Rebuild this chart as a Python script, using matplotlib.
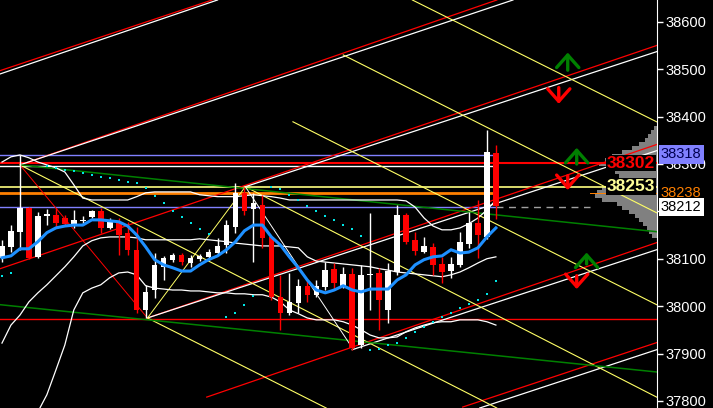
import numpy as np
import matplotlib
matplotlib.use('Agg')
import matplotlib.pyplot as plt
from matplotlib.transforms import blended_transform_factory

plt.rcParams['font.family'] = ['Liberation Sans', 'DejaVu Sans']

# ---- candles (oldest first) ----
opens = [38102, 38125, 38157, 38207, 38104, 38190, 38193, 38186, 38171, 38180,
         38188, 38201, 38165, 38176, 38155, 38119, 37992, 38034, 38083, 38098,
         38108, 38091, 38100, 38104, 38112, 38129, 38167, 38239, 38205, 38214,
         38146, 38020, 37986, 38007, 38043, 38024, 38041, 38079, 38043, 38068,
         37918, 38066, 38070, 37992, 38072, 38193, 38140, 38114, 38125, 38089,
         38074, 38087, 38131, 38176, 38146, 38323]
highs = [38140, 38171, 38319, 38209, 38199, 38205, 38207, 38193, 38203, 38190,
         38203, 38207, 38186, 38186, 38178, 38167, 38045, 38112, 38106, 38112,
         38112, 38108, 38110, 38121, 38144, 38182, 38260, 38252, 38239, 38235,
         38146, 38066, 38070, 38057, 38055, 38055, 38093, 38091, 38083, 38081,
         38087, 38197, 38081, 38091, 38214, 38197, 38157, 38146, 38133, 38104,
         38104, 38157, 38199, 38224, 38372, 38340]
lows = [38093, 38114, 38119, 38100, 38102, 38171, 38167, 38169, 38165, 38174,
        38186, 38155, 38163, 38108, 38108, 37986, 37975, 38017, 38055, 38093,
        38087, 38083, 38095, 38098, 38110, 38112, 38155, 38193, 38093, 38123,
        38013, 37950, 37981, 37986, 38009, 38020, 38034, 38034, 38038, 37908,
        37912, 37992, 37950, 37965, 38066, 38131, 38108, 38112, 38066, 38049,
        38060, 38083, 38123, 38102, 38142, 38184]
closes = [38127, 38159, 38207, 38102, 38190, 38195, 38176, 38174, 38182, 38182,
          38201, 38165, 38182, 38150, 38119, 37992, 38030, 38087, 38102, 38108,
          38093, 38102, 38106, 38114, 38127, 38171, 38239, 38201, 38218, 38144,
          38020, 37986, 38009, 38043, 38024, 38043, 38077, 38049, 38068, 37912,
          38066, 38068, 38013, 38074, 38193, 38136, 38117, 38127, 38087, 38072,
          38089, 38136, 38176, 38150, 38325, 38212]

# ---- indicators ----
ma_blue = [38102, 38106, 38121, 38121, 38136, 38155, 38165, 38169, 38171, 38171,
           38182, 38182, 38180, 38178, 38169, 38150, 38125, 38098, 38087, 38081,
           38074, 38074, 38087, 38098, 38106, 38119, 38136, 38159, 38171, 38171,
           38146, 38129, 38104, 38081, 38055, 38034, 38028, 38034, 38043, 38034,
           38030, 38036, 38036, 38036, 38055, 38066, 38087, 38098, 38104, 38106,
           38119, 38112, 38114, 38123, 38146, 38165]
bb_upper = [38304, 38315, 38319, 38313, 38304, 38298, 38292, 38283, 38256, 38228,
            38224, 38224, 38224, 38224, 38224, 38231, 38239, 38241, 38241, 38241,
            38241, 38241, 38235, 38233, 38231, 38231, 38231, 38233, 38235, 38233,
            38231, 38228, 38224, 38224, 38224, 38224, 38224, 38224, 38224, 38224,
            38224, 38224, 38224, 38224, 38224, 38222, 38209, 38186, 38169, 38161,
            38161, 38165, 38174, 38186, 38203, 38224]
bb_mid = [37922, 37960, 37981, 38009, 38028, 38045, 38064, 38083, 38104, 38127,
          38138, 38144, 38146, 38146, 38146, 38144, 38140, 38140, 38140, 38140,
          38140, 38140, 38142, 38140, 38138, 38136, 38133, 38131, 38129, 38127,
          38127, 38127, 38125, 38123, 38104, 38095, 38093, 38091, 38089, 38087,
          38085, 38083, 38079, 38076, 38072, 38070, 38068, 38066, 38064, 38062,
          38066, 38072, 38081, 38091, 38100, 38104]
bb_lower = [37654, 37686, 37718, 37749, 37777, 37813, 37865, 37918, 37992, 38028,
            38038, 38045, 38060, 38070, 38072, 38066, 38043, 38038, 38036, 38034,
            38034, 38032, 38032, 38030, 38028, 38028, 38026, 38026, 38024, 38024,
            38019, 38009, 37992, 37984, 37975, 37971, 37971, 37971, 37967, 37960,
            37950, 37939, 37933, 37933, 37935, 37946, 37954, 37960, 37965, 37967,
            37967, 37971, 37971, 37971, 37967, 37960]

sar_idx = [0, 1, 5, 6, 7, 8, 9, 10, 11, 12, 13, 14, 15, 16, 17, 18, 19, 20, 21, 22, 23,
           25, 26, 27, 28, 30, 31, 32, 33, 34, 35, 36, 37, 38, 39, 40,
           41, 42, 43, 44, 45, 46, 47, 48, 49, 50, 51, 52, 53, 54, 55]
sar_val = [38064, 38070, 38296, 38292, 38288, 38285, 38281, 38277, 38273, 38271,
           38266, 38262, 38260, 38249, 38233, 38218, 38201, 38188, 38176, 38163, 38152,
           37977, 37986, 38003, 38022, 38252, 38247, 38235, 38224, 38212, 38201,
           38190, 38182, 38171, 38163, 38148,
           37908, 37910, 37918, 37922, 37933, 37946, 37956, 37967, 37977, 37986,
           37996, 38005, 38013, 38026, 38053]

# ---- horizontal levels: price, end index (None = full width), colour, width ----
levels = [
    (38318, 55, '#8080ff', 1.0),
    (38302, None, '#ff0000', 1.5),
    (38295, 55, '#ffffff', 1.0),
    (38252, None, '#ffff80', 1.2),
    (38238, 55, '#ff8000', 2.0),
    (38209, 55, '#8080ff', 1.0),
    (37973, None, '#ff0000', 1.0),
]

# ---- trend / pitchfork lines: x0, p0, x1, p1, colour, width ----
trend_lines = [
    (-0.2, 38497, 23.4, 38646, '#ff0000', 0.9),
    (-0.2, 38490, 24.0, 38646, '#ffffff', 0.9),
    (2.0, 38298, 55.1, 38646, '#ff0000', 0.9),
    (2.0, 38298, 56.9, 38646, '#ffffff', 0.9),
    (-0.2, 38079, 72.9, 38550, '#ff0000', 0.9),
    (27.1, 38252, 72.9, 38537, '#ffffff', 0.9),
    (16.2, 37975, 72.9, 38341, '#ff0000', 0.9),
    (16.2, 37975, 72.9, 38328, '#ffffff', 0.9),
    (22.8, 37808, 72.9, 38134, '#ff0000', 0.9),
    (39.0, 37908, 72.9, 38119, '#ffffff', 0.9),
    (51.3, 37787, 72.9, 37923, '#ff0000', 0.9),
    (53.2, 37785, 72.9, 37908, '#ffffff', 0.9),
    (2.0, 38298, 55.1, 37785, '#ffff66', 0.8),
    (27.1, 38252, 72.9, 37808, '#ffff66', 0.8),
    (32.4, 38389, 72.9, 38003, '#ffff66', 0.8),
    (38.0, 38530, 72.9, 38197, '#ffff66', 0.8),
    (45.7, 38646, 72.9, 38389, '#ffff66', 0.8),
    (16.2, 37975, 36.1, 37785, '#ffff66', 0.8),
    (2.0, 38298, 72.9, 38157, '#008000', 1.1),
    (-0.2, 38003, 72.9, 37861, '#008000', 1.1),
    (2.0, 38298, 16.2, 37975, '#ff0000', 0.7),
    (16.2, 37975, 27.1, 38252, '#ffff66', 0.7),
    (27.1, 38252, 39.0, 37912, '#ffffff', 0.7),
]

# ---- volume profile (price level, volume) ----
vp_price = [38376, 38368, 38359, 38351, 38342, 38334, 38325, 38317, 38309, 38300,
            38292, 38283, 38275, 38266, 38258, 38250, 38241, 38233, 38224, 38216,
            38207, 38199, 38190, 38182, 38174, 38165, 38157, 38148]
vp_vol = [3, 6, 9, 12, 18, 25, 35, 45, 52, 58, 50, 42, 38, 45, 50, 55, 60, 62, 55, 40,
          35, 28, 22, 18, 14, 10, 8, 5]
poc_price = 38238
poc_vol = 67

# ---- signal arrows: x index, base, tip, colour ----
arrows = [
    (63.0, 38492, 38541, '#008000'),
    (62.0, 38467, 38421, '#ff0000'),
    (64.0, 38294, 38340, '#008000'),
    (63.0, 38281, 38239, '#ff0000'),
    (65.1, 38083, 38119, '#008000'),
    (64.0, 38070, 38030, '#ff0000'),
]

# axis tick labels (38200 sits hidden under the current-price box)
tick_vals = list(range(37800, 38700, 100))
tick_text = ['' if v == 38200 else str(v) for v in tick_vals]

fig = plt.figure(figsize=(7.13, 4.08), dpi=100, facecolor='black')
ax = fig.add_axes([0, 0, 657 / 713, 1])
ax2 = ax.twiny()
ax.set_zorder(2)
ax2.set_zorder(1)
ax.patch.set_visible(False)
ax2.set_facecolor('black')

xmin, xmax = -0.22, 72.94
ax.set_xlim(xmin, xmax)
ax.set_ylim(37785, 38646)

# volume profile behind everything
ax2.set_xlim(657, 0)
ax2.barh(vp_price, vp_vol, height=8.4, color='#808080', align='center')
ax2.barh([poc_price], [poc_vol], height=3.5, color='#ff8000')
ax2.xaxis.set_visible(False)
for s in ax2.spines.values():
    s.set_visible(False)

for p, end, c, w in levels:
    ax.plot([xmin, end if end is not None else xmax], [p, p], color=c, lw=w, zorder=2)
ax.plot([55, 65.5], [38209, 38209], color='#a0a0a0', lw=1, ls=(0, (5, 4)), zorder=2)

for x0, p0, x1, p1, c, w in trend_lines:
    ax.plot([x0, x1], [p0, p1], color=c, lw=w, zorder=2)

idx = np.arange(len(opens))
ax.plot(idx, bb_upper, color='white', lw=0.9, zorder=3)
ax.plot(idx, bb_mid, color='white', lw=0.9, zorder=3)
ax.plot(idx, bb_lower, color='white', lw=0.9, zorder=3)

for i in idx:
    up = closes[i] >= opens[i]
    c = 'white' if up else '#ff0000'
    ax.vlines(i, lows[i], highs[i], color=c, lw=1.0, zorder=4)
    body = max(abs(closes[i] - opens[i]), 1.5)
    ax.bar(i, body, bottom=min(opens[i], closes[i]), width=0.62, color=c,
           linewidth=0, zorder=5)

ax.plot(idx, ma_blue, color='#1e90ff', lw=2.2, zorder=6)
ax.scatter(sar_idx, sar_val, marker='s', s=3, color='#00e5e5', linewidths=0, zorder=6)

for x, base, tip, c in arrows:
    ax.annotate('', xy=(x, tip), xytext=(x, base),
                arrowprops=dict(arrowstyle='->,head_length=0.45,head_width=0.4',
                                color=c, lw=2.4, mutation_scale=20), zorder=7)

# axis styling
for name, s in ax.spines.items():
    s.set_visible(name == 'right')
ax.spines['right'].set_color('white')
ax.set_xticks([])
ax.yaxis.tick_right()
ax.set_yticks(tick_vals)
ax.set_yticklabels(tick_text)
ax.tick_params(axis='y', colors='white', labelsize=10.5, length=4, width=1, pad=2)

trans = blended_transform_factory(ax.transAxes, ax.transData)
ax.text(0.997, 38302, '38302', transform=trans, ha='right', va='center',
        color='#ff0000', fontsize=12.5, fontweight='bold', zorder=8,
        bbox=dict(boxstyle='square,pad=0.05', fc='black', ec='none'))
ax.text(0.997, 38253, '38253', transform=trans, ha='right', va='center',
        color='#ffff99', fontsize=12.5, fontweight='bold', zorder=8,
        bbox=dict(boxstyle='square,pad=0.05', fc='black', ec='none'))

ax.text(1.006, 38320, '38318', transform=trans, ha='left', va='center',
        color='#000050', fontsize=10.5, clip_on=False, zorder=9,
        bbox=dict(boxstyle='square,pad=0.15', fc='#8080ff', ec='none'))
ax.text(1.006, 38238, '38238', transform=trans, ha='left', va='center',
        color='#ff8000', fontsize=10.5, clip_on=False, zorder=9)
ax.text(1.006, 38209, '38212', transform=trans, ha='left', va='center',
        color='black', fontsize=10.5, clip_on=False, zorder=9,
        bbox=dict(boxstyle='square,pad=0.15', fc='white', ec='none'))

fig.savefig('out.png', dpi=100, facecolor='black')
